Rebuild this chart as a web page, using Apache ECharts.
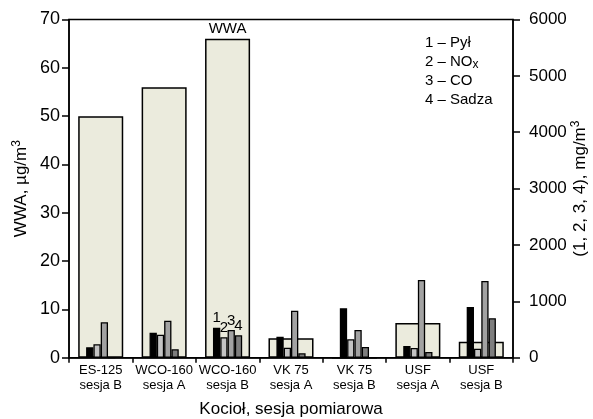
<!DOCTYPE html>
<html><head><meta charset="utf-8">
<script src="https://cdn.jsdelivr.net/npm/echarts@6/dist/echarts.min.js"></script>
<style>html,body{margin:0;padding:0;background:#fff}#c{width:593px;height:419px}</style>
</head><body><div id="c"></div>
<script>
var categories = ['ES-125\nsesja B','WCO-160\nsesja A','WCO-160\nsesja B','VK 75\nsesja A','VK 75\nsesja B','USF\nsesja A','USF\nsesja B'];
var wwa = [50, 56, 66, 4, 0, 7.2, 3.3];
var pyl = [185, 444, 532, 373, 877, 208, 900];
var nox = [238, 408, 362, 178, 327, 172, 160];
var co = [628, 657, 491, 834, 492, 1380, 1362];
var sadza = [0, 149, 397, 78, 190, 101, 700];
var leftTicks = [0, 70, 10];
var rightTicks = [0, 6000, 1000];

var F = 'Liberation Sans';
var chart = echarts.init(document.getElementById('c'));

function withLabel(arr, idx, txt) {
  return arr.map(function (v, i) {
    if (i !== idx) return v;
    return {value: v, label: {show: true, position: 'top', distance: 2, formatter: txt,
      fontFamily: F, fontSize: 15, color: '#000'}};
  });
}
function smallSeries(name, arr, color, num) {
  return {
    name: name, type: 'bar', xAxisIndex: 1, yAxisIndex: 1,
    data: withLabel(arr, 2, num), barWidth: 7.3, barGap: '0%',
    itemStyle: {color: color, borderColor: '#000', borderWidth: 1.3},
    z: 3
  };
}
function plain(v) { return String(v); }

var option = {
  animation: false,
  textStyle: {fontFamily: F},
  title: {
    left: 420, top: 28,
    text: '{n|1 – Pył}\n{n|2 – NO}{s|x}\n{n|3 – CO}\n{n|4 – Sadza}',
    textStyle: {
      fontWeight: 'normal',
      rich: {
        n: {fontFamily: F, fontSize: 15, fontWeight: 'normal', color: '#000', lineHeight: 19},
        s: {fontFamily: F, fontSize: 12, fontWeight: 'normal', color: '#000', lineHeight: 19, verticalAlign: 'bottom', padding: [6, 0, 0, 0]}
      }
    }
  },
  grid: {left: 69, right: 80, top: 19.5, bottom: 61.3, outerBoundsMode: 'none', containLabel: false,
    show: true, borderColor: '#000', borderWidth: 1.5, backgroundColor: 'transparent'},
  xAxis: [{
    type: 'category', data: categories,
    name: 'Kocioł, sesja pomiarowa', nameLocation: 'middle', nameGap: 43, nameMoveOverlap: false,
    nameTextStyle: {fontFamily: F, fontSize: 17, color: '#000'},
    axisLine: {lineStyle: {color: '#000', width: 1.5}},
    axisTick: {show: true, length: 5, lineStyle: {color: '#000', width: 1.5}},
    axisLabel: {fontFamily: F, fontSize: 13, color: '#000', lineHeight: 15, margin: 5, interval: 0}
  }, {
    type: 'category', data: categories, show: false
  }],
  yAxis: [{
    type: 'value', min: leftTicks[0], max: leftTicks[1], interval: leftTicks[2],
    name: '{a|WWA, µg/m}{b|3}', nameLocation: 'middle', nameGap: 38, nameRotate: 90, nameMoveOverlap: false,
    nameTextStyle: {rich: {
      a: {fontFamily: F, fontSize: 17, color: '#000'},
      b: {fontFamily: F, fontSize: 12, color: '#000', verticalAlign: 'top', padding: [0, 0, 8, 0]}
    }},
    splitLine: {show: false},
    axisLine: {show: true, lineStyle: {color: '#000', width: 1.5}},
    axisTick: {show: true, length: 7, lineStyle: {color: '#000', width: 1.5}},
    axisLabel: {fontFamily: F, fontSize: 18, color: '#000', margin: 9, formatter: plain}
  }, {
    type: 'value', min: rightTicks[0], max: rightTicks[1], interval: rightTicks[2], position: 'right',
    name: '{a|(1, 2, 3, 4), mg/m}{b|3}', nameLocation: 'middle', nameGap: 57, nameRotate: 90, nameMoveOverlap: false,
    nameTextStyle: {rich: {
      a: {fontFamily: F, fontSize: 17, color: '#000'},
      b: {fontFamily: F, fontSize: 12, color: '#000', verticalAlign: 'top', padding: [0, 0, 8, 0]}
    }},
    splitLine: {show: false},
    axisLine: {show: true, lineStyle: {color: '#000', width: 1.5}},
    axisTick: {show: true, length: 7, lineStyle: {color: '#000', width: 1.5}},
    axisLabel: {fontFamily: F, fontSize: 17, color: '#000', margin: 16, formatter: plain}
  }],
  series: [
    {
      name: 'WWA', type: 'bar', xAxisIndex: 0, yAxisIndex: 0,
      data: withLabel(wwa, 2, 'WWA'), barWidth: '71%',
      itemStyle: {color: '#ebebdd', borderColor: '#000', borderWidth: 1.5},
      z: 2
    },
    smallSeries('Pył', pyl, '#000000', '1'),
    smallSeries('NOx', nox, '#c4c4c4', '2'),
    smallSeries('CO', co, '#a2a2a2', '3'),
    smallSeries('Sadza', sadza, '#7e7e7e', '4')
  ]
};
chart.setOption(option);
</script>
</body></html>
